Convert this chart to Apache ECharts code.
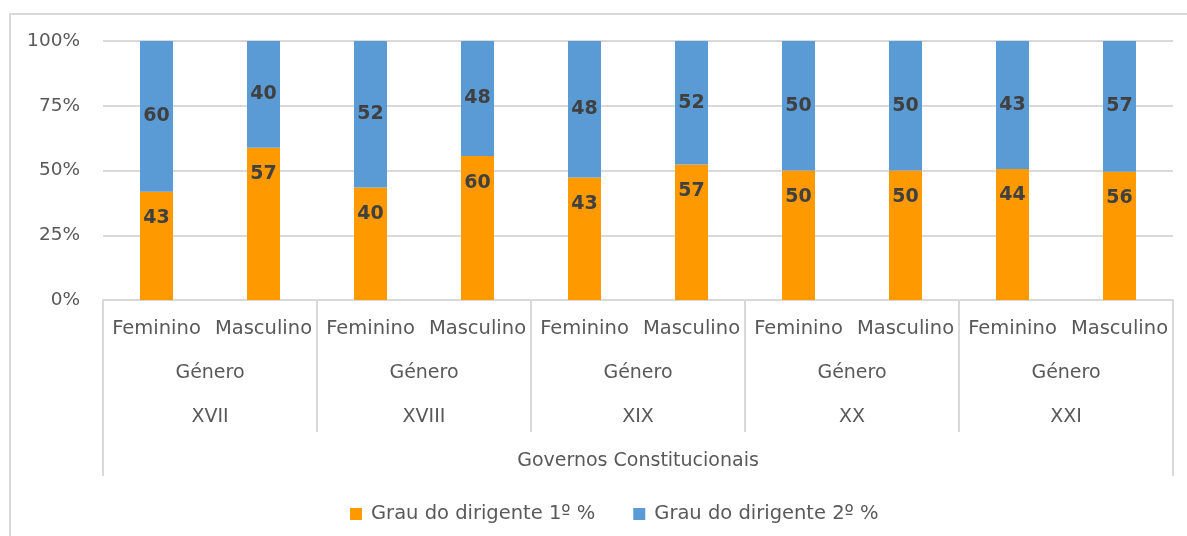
<!DOCTYPE html>
<html>
<head>
<meta charset="utf-8">
<script src="https://cdn.jsdelivr.net/npm/echarts@6/dist/echarts.min.js"></script>
<style>
  html, body { margin: 0; padding: 0; background: #fff; }
  #frame { position: absolute; left: 9px; top: 13px; width: 1200px; height: 560px; border: 2px solid #d9d9d9; box-sizing: border-box; }
  #chart { position: absolute; left: 0; top: 0; width: 1187px; height: 536px; }
</style>
</head>
<body>
<div id="frame"></div>
<div id="chart"></div>
<script>
// dados
const genero = ["Feminino", "Masculino", "Feminino", "Masculino", "Feminino", "Masculino", "Feminino", "Masculino", "Feminino", "Masculino"];
const governos = ["XVII", "XVIII", "XIX", "XX", "XXI"];
const nivelGenero = "Género";
const nivelTopo = ["Governos Constitucionais"];
const grau1 = [43, 57, 40, 60, 43, 57, 50, 50, 44, 56];
const grau2 = [60, 40, 52, 48, 48, 52, 50, 50, 43, 57];
const yTicks = [0, 25, 50, 75, 100];

// 100% empilhado: cada coluna normalizada pela sua soma
const share = (arr, i) => arr[i] / (grau1[i] + grau2[i]) * 100;
const pct1 = grau1.map((v, i) => share(grau1, i));
const pct2 = grau2.map((v, i) => share(grau2, i));

const font = "DejaVu Sans";
const grey = "#595959";
const line = "#d9d9d9";

const chart = echarts.init(document.getElementById("chart"));
chart.setOption({
  animation: false,
  textStyle: { fontFamily: font },
  grid: { left: 103, top: 41, width: 1070, height: 259 },
  legend: {
    left: 345,
    top: 499,
    itemWidth: 12,
    itemHeight: 12,
    itemGap: 38,
    icon: "rect",
    textStyle: { fontSize: 19.5, color: grey, fontFamily: font, padding: [0, 0, 0, 4] },
    data: ["Grau do dirigente 1º %", "Grau do dirigente 2º %"]
  },
  xAxis: [
    {
      type: "category",
      data: genero,
      position: "bottom",
      axisLine: { lineStyle: { color: line, width: 2 } },
      axisTick: { show: false },
      axisLabel: { interval: 0, fontSize: 19.5, color: grey, lineHeight: 20, margin: 19 }
    },
    {
      type: "category",
      data: governos,
      position: "bottom",
      axisLine: { show: false },
      axisTick: { show: true, interval: 0, length: 132, lineStyle: { color: line, width: 2 } },
      axisLabel: {
        interval: 0, fontSize: 19, color: grey, lineHeight: 44, margin: 51,
        formatter: v => nivelGenero + "\n" + v
      }
    },
    {
      type: "category",
      data: nivelTopo,
      position: "bottom",
      axisLine: { show: false },
      axisTick: { show: true, interval: 0, length: 176, lineStyle: { color: line, width: 2 } },
      axisLabel: { interval: 0, fontSize: 19, color: grey, lineHeight: 20, margin: 151 }
    }
  ],
  yAxis: {
    type: "value",
    min: yTicks[0],
    max: yTicks[yTicks.length - 1],
    interval: 25,
    axisLine: { show: false },
    axisTick: { show: false },
    axisLabel: { formatter: "{value}%", fontSize: 18.5, color: grey, margin: 23 },
    splitLine: { lineStyle: { color: line, width: 2 } }
  },
  series: [
    {
      name: "Grau do dirigente 1º %",
      type: "bar",
      stack: "total",
      barWidth: 33,
      data: pct1,
      itemStyle: { color: "#ff9900" },
      label: {
        show: true,
        position: "insideTop",
        distance: 17,
        fontSize: 19,
        fontWeight: "bold",
        color: "#404040",
        formatter: p => grau1[p.dataIndex]
      }
    },
    {
      name: "Grau do dirigente 2º %",
      type: "bar",
      stack: "total",
      barWidth: 33,
      data: pct2,
      itemStyle: { color: "#5b9bd5" },
      label: {
        show: true,
        position: "inside",
        fontSize: 19,
        fontWeight: "bold",
        color: "#404040",
        formatter: p => grau2[p.dataIndex]
      }
    }
  ]
});
</script>
</body>
</html>
